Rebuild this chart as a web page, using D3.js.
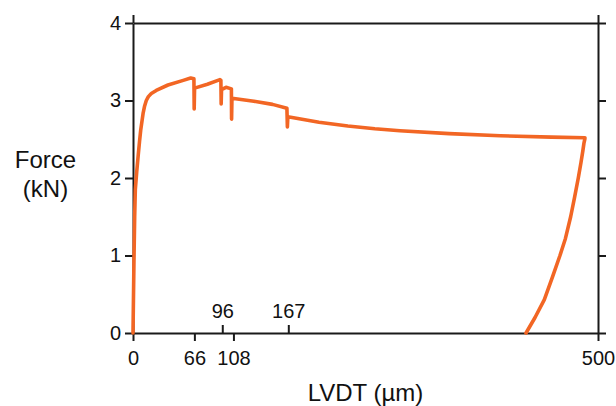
<!DOCTYPE html>
<html>
<head>
<meta charset="utf-8">
<script src="https://cdn.jsdelivr.net/npm/d3@7"></script>
<style>
  html, body { margin: 0; padding: 0; background: #fff; }
  svg text { font-family: "Liberation Sans", Arial, sans-serif; fill: #111; }
</style>
</head>
<body>
<svg id="chart" width="616" height="406"></svg>
<script>
// ---- data (LVDT in µm, Force in kN) ----
const lvdt = [0, 1, 1.8, 2.5, 4, 5.5, 7, 8.3, 10.8, 12.5, 14.3, 16.5, 19.7, 25, 37.6, 54, 62, 65.5,
  65.8, 66.2, 80, 93.5, 94.5, 94.8, 95.2, 100, 105.8, 106, 106.4, 130, 150, 165.5,
  166, 166.5, 200, 231, 260, 287, 340, 395, 450, 486,
  485.8, 484.9, 483.7, 481.7, 478.8, 474.8, 470.6, 465, 459.1, 451, 442.3, 432.3, 422.6];
const force = [0, 0.9, 1.5, 1.85, 2.08, 2.28, 2.47, 2.62, 2.83, 2.93, 3.0, 3.05, 3.09, 3.13, 3.2, 3.26, 3.29, 3.28,
  2.89, 3.16, 3.21, 3.27, 3.26, 2.955, 3.14, 3.17, 3.15, 2.76, 3.03, 2.99, 2.95, 2.90,
  2.66, 2.79, 2.72, 2.67, 2.635, 2.61, 2.572, 2.545, 2.527, 2.52,
  2.5, 2.45, 2.35, 2.2, 2.0, 1.75, 1.5, 1.22, 1.0, 0.72, 0.43, 0.2, 0];
const yTicks = [0, 1, 2, 3, 4];
const xTicksBelow = [0, 66, 108, 500];
const xTicksAbove = [96, 167];
const xTicksTop = [0, 500];

const svg = d3.select("#chart");
const x = d3.scaleLinear().domain([0, 500]).range([133, 598]);
const y = d3.scaleLinear().domain([0, 4]).range([333, 23]);

const axisColor = "#1a1a1a";
function styleAxis(g) {
  g.selectAll(".domain").attr("stroke", axisColor).attr("stroke-width", 2);
  g.selectAll(".tick line").attr("stroke", axisColor).attr("stroke-width", 2);
  g.selectAll(".tick text").attr("font-size", 20).attr("fill", "#111")
    .attr("font-family", '"Liberation Sans", Arial, sans-serif');
}

// left axis
svg.append("g").attr("transform", `translate(${x(0)},0)`)
  .call(d3.axisLeft(y).tickValues(yTicks).tickSize(8).tickSizeOuter(0).tickPadding(4).tickFormat(d3.format("d")))
  .call(styleAxis);
// right axis
svg.append("g").attr("transform", `translate(${x(500)},0)`)
  .call(d3.axisRight(y).tickValues(yTicks).tickSize(8).tickSizeOuter(0).tickFormat(""))
  .call(styleAxis);
// top axis
svg.append("g").attr("transform", `translate(0,${y(4)})`)
  .call(d3.axisTop(x).tickValues(xTicksTop).tickSize(8).tickSizeOuter(0).tickFormat(""))
  .call(styleAxis);
// bottom axis (labels below)
svg.append("g").attr("transform", `translate(0,${y(0)})`)
  .call(d3.axisBottom(x).tickValues(xTicksBelow).tickSize(8).tickSizeOuter(0).tickPadding(10).tickFormat(d3.format("d")))
  .call(styleAxis);
// bottom axis (labels above)
svg.append("g").attr("transform", `translate(0,${y(0)})`)
  .call(d3.axisTop(x).tickValues(xTicksAbove).tickSize(8).tickSizeOuter(0).tickPadding(7).tickFormat(d3.format("d")))
  .call(g => g.select(".domain").remove())
  .call(styleAxis);

// data line
const pts = lvdt.map((v, i) => [v, force[i]]);
svg.append("path")
  .datum(pts)
  .attr("fill", "none")
  .attr("stroke", "#f26624")
  .attr("stroke-width", 3.6)
  .attr("stroke-linejoin", "round")
  .attr("stroke-linecap", "round")
  .attr("d", d3.line().x(d => x(d[0])).y(d => y(d[1])));

// axis titles
svg.append("text").attr("x", 365.5).attr("y", 401).attr("text-anchor", "middle")
  .attr("font-size", 24).text("LVDT (µm)");
svg.append("text").attr("x", 45.5).attr("y", 168).attr("text-anchor", "middle")
  .attr("font-size", 24).text("Force");
svg.append("text").attr("x", 45.5).attr("y", 197).attr("text-anchor", "middle")
  .attr("font-size", 24).text("(kN)");
</script>
</body>
</html>
